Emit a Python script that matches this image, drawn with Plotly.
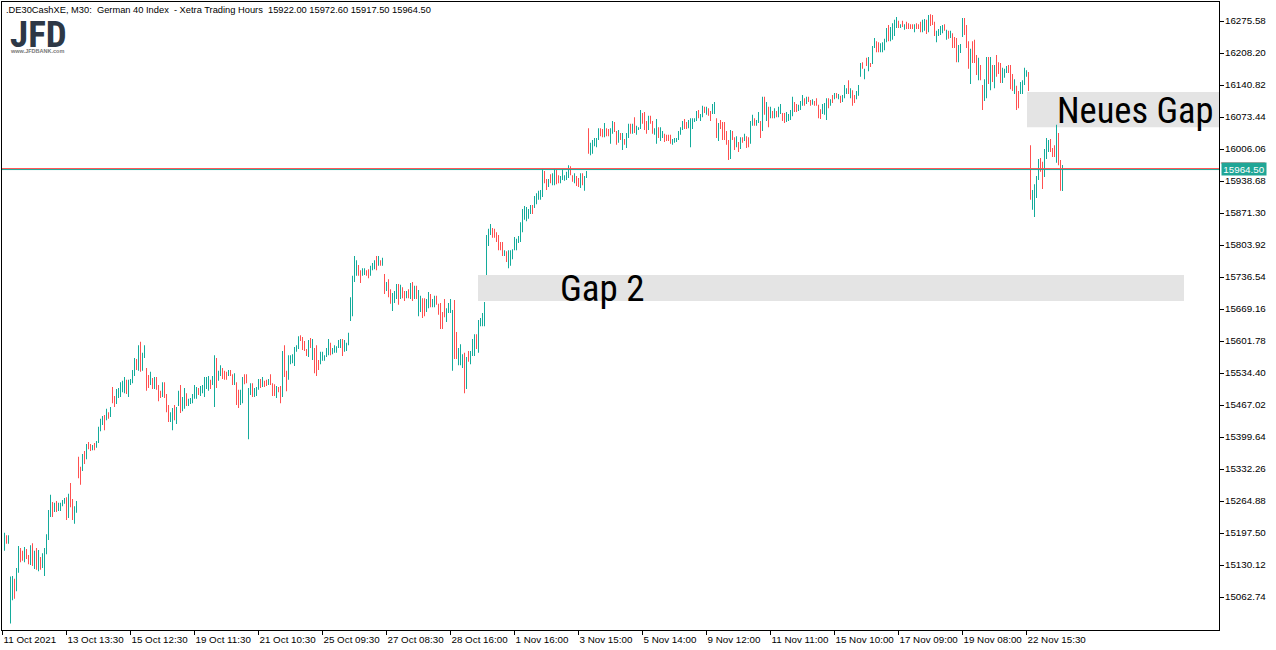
import plotly.graph_objects as go

# M30 bars, oldest first
highs = [
    15198,15193,15193,15106,15107,15101,15124,15170,15166,15160,
    15168,15164,15151,15172,15176,15160,15166,15162,15147,15155,
    15166,15195,15246,15278,15263,15261,15265,15261,15261,15267,
    15271,15273,15280,15303,15269,15254,15265,15358,15337,15364,
    15370,15385,15389,15385,15383,15387,15391,15421,15438,15444,
    15446,15459,15452,15463,15505,15486,15501,15503,15515,15518,
    15526,15520,15520,15522,15541,15566,15564,15593,15600,15577,
    15593,15545,15530,15537,15524,15526,15526,15509,15497,15515,
    15515,15490,15467,15452,15461,15467,15463,15497,15509,15484,
    15503,15492,15480,15482,15490,15509,15505,15503,15507,15509,
    15526,15526,15528,15520,15528,15572,15566,15539,15551,15545,
    15539,15537,15541,15541,15532,15534,15515,15499,15499,15526,
    15532,15532,15503,15513,15513,15503,15505,15522,15522,15526,
    15518,15520,15522,15532,15513,15511,15507,15505,15507,15581,
    15593,15539,15572,15572,15574,15589,15593,15612,15614,15610,
    15602,15585,15604,15608,15606,15587,15593,15562,15579,15579,
    15572,15587,15606,15598,15587,15593,15591,15604,15606,15606,
    15604,15598,15619,15694,15739,15781,15772,15762,15751,15755,
    15755,15751,15753,15760,15766,15772,15781,15781,15772,15777,
    15743,15726,15732,15711,15703,15707,15722,15722,15720,15715,
    15707,15707,15711,15724,15726,15718,15718,15709,15697,15692,
    15692,15690,15705,15701,15690,15697,15697,15680,15682,15663,
    15690,15671,15682,15690,15667,15688,15621,15587,15595,15574,
    15577,15568,15581,15581,15606,15616,15616,15646,15650,15661,
    15684,15825,15838,15848,15840,15838,15831,15825,15810,15810,
    15793,15791,15793,15793,15795,15821,15817,15823,15852,15880,
    15886,15884,15880,15888,15888,15907,15913,15918,15920,15964,
    15960,15943,15943,15953,15955,15964,15962,15951,15949,15964,
    15951,15958,15972,15970,15951,15955,15949,15945,15955,15955,
    15949,15960,16050,16019,16025,16029,16029,16050,16050,16048,
    16061,16050,16048,16050,16065,16063,16044,16046,16040,16040,
    16027,16040,16059,16059,16059,16073,16055,16052,16088,16082,
    16084,16065,16076,16076,16065,16050,16069,16052,16052,16044,
    16038,16036,16036,16036,16027,16029,16029,16044,16052,16065,
    16069,16063,16067,16071,16071,16071,16086,16088,16080,16097,
    16095,16095,16092,16086,16101,16105,16071,16061,16067,16063,
    16063,16044,16025,16046,16044,16031,16033,16021,16031,16031,
    16038,16033,16031,16065,16078,16071,16067,16084,16065,16116,
    16116,16105,16095,16095,16086,16092,16086,16095,16101,16082,
    16082,16084,16080,16088,16116,16105,16101,16099,16107,16120,
    16113,16116,16116,16109,16111,16107,16113,16099,16090,16101,
    16103,16113,16113,16111,16120,16124,16124,16122,16118,16120,
    16141,16134,16151,16134,16130,16120,16128,16141,16187,16189,
    16175,16198,16200,16187,16223,16240,16233,16231,16229,16231,
    16238,16261,16267,16263,16271,16278,16284,16276,16269,16276,
    16269,16274,16271,16269,16269,16269,16271,16269,16274,16278,
    16280,16278,16288,16290,16288,16274,16255,16259,16265,16267,
    16269,16257,16255,16255,16250,16242,16240,16225,16227,16282,
    16282,16267,16233,16217,16233,16236,16204,16198,16183,16141,
    16153,16200,16200,16200,16183,16183,16204,16189,16187,16177,
    16175,16181,16183,16183,16164,16153,16139,16128,16147,16151,
    16177,16172,16168,16014,15920,15932,15949,15985,15987,15979,
    16006,16029,16025,16027,16008,16014,16057,16040,15983,15972.6,
]
lows = [
    15160,15175,15175,15007,15056,15059,15075,15114,15136,15139,
    15136,15143,15132,15130,15128,15122,15120,15117,15120,15124,
    15107,15153,15183,15231,15231,15242,15242,15244,15244,15254,
    15259,15225,15229,15252,15225,15217,15240,15313,15299,15328,
    15343,15353,15374,15370,15372,15372,15377,15387,15412,15425,
    15414,15435,15438,15442,15471,15463,15469,15482,15484,15494,
    15492,15490,15484,15509,15513,15528,15541,15539,15537,15539,
    15566,15497,15503,15509,15501,15501,15499,15475,15482,15484,
    15482,15452,15431,15431,15414,15435,15427,15465,15450,15454,
    15459,15465,15465,15469,15471,15480,15480,15488,15486,15492,
    15484,15501,15497,15501,15509,15463,15503,15518,15528,15522,
    15520,15520,15528,15528,15509,15509,15467,15461,15467,15471,
    15511,15513,15395,15488,15484,15484,15486,15499,15503,15505,
    15505,15507,15509,15509,15486,15486,15482,15494,15471,15484,
    15526,15496,15520,15553,15555,15549,15579,15585,15602,15583,
    15581,15570,15568,15587,15562,15534,15528,15541,15553,15560,
    15560,15568,15572,15572,15574,15577,15577,15587,15587,15570,
    15579,15581,15593,15644,15654,15726,15739,15739,15724,15739,
    15741,15739,15734,15739,15751,15753,15751,15760,15760,15760,
    15701,15707,15694,15680,15665,15682,15690,15678,15690,15692,
    15686,15692,15692,15690,15686,15690,15690,15654,15663,15650,
    15654,15663,15671,15673,15673,15673,15678,15657,15627,15627,
    15652,15642,15661,15661,15539,15564,15564,15551,15551,15545,
    15492,15501,15558,15553,15570,15570,15585,15577,15633,15633,
    15633,15741,15802,15825,15819,15819,15810,15793,15793,15781,
    15781,15768,15755,15760,15774,15793,15793,15808,15810,15831,
    15857,15854,15859,15869,15869,15882,15890,15899,15899,15905,
    15934,15920,15926,15934,15930,15930,15932,15934,15934,15941,
    15939,15941,15945,15951,15937,15934,15928,15926,15924,15930,
    15918,15945,15996,15993,15996,16012,16010,16025,16033,16031,
    16031,16033,16033,16017,16038,16042,16015,16019,16025,16004,
    16015,16008,16029,16038,16038,16040,16036,16046,16048,16059,
    16046,16038,16046,16059,16038,16036,16017,16029,16023,16029,
    16021,16023,16023,16017,16015,16019,16021,16025,16036,16046,
    16048,16048,16050,16010,16048,16063,16065,16071,16065,16073,
    16082,16078,16076,16065,16080,16080,16029,16023,16048,16025,
    16025,16015,15983,15985,16025,16004,16010,16000,16006,16019,
    16023,16008,16010,16017,16055,16055,16055,16061,16029,16044,
    16078,16065,16052,16071,16071,16071,16073,16073,16080,16065,
    16061,16063,16065,16067,16075,16084,16084,16086,16088,16097,
    16097,16101,16105,16097,16099,16097,16097,16071,16069,16080,
    16078,16067,16092,16097,16103,16111,16113,16111,16103,16105,
    16113,16122,16122,16113,16097,16103,16111,16118,16158,16175,
    16153,16181,16170,16179,16185,16219,16210,16210,16210,16210,
    16214,16231,16233,16233,16236,16244,16261,16261,16261,16263,
    16257,16259,16259,16259,16259,16252,16259,16259,16252,16252,
    16255,16248,16252,16265,16267,16244,16231,16244,16246,16250,
    16255,16236,16238,16240,16219,16219,16189,16189,16208,16242,
    16246,16219,16175,16143,16187,16187,16162,16151,16151,16088,
    16107,16113,16143,16130,16147,16134,16158,16164,16145,16145,
    16156,16166,16166,16132,16128,16122,16088,16092,16122,16122,
    16141,16158,16128,15899,15878,15863,15903,15941,15958,15922,
    15947,15985,16000,16000,15989,15989,15977,15972,15918,15917.5,
]
# u = bull bar, d = bear bar
directions = (
    "uduuu" "duudd" "uddud" "ududu" "uuuud" "uduuu" "ududd" "uuddu" "duddu" "duuuu"
    "dudud" "duuuu" "uduuu" "ududu" "uddud" "udddu" "ddduu" "duudu" "uduuu" "uuduu"
    "uuudu" "uduud" "ddudd" "udduu" "dduud" "uuudu" "ddudd" "duddu" "dduuu" "uuudd"
    "ddudu" "ddduu" "uuudu" "uuuud" "uuuuu" "uuddu" "udduu" "ududu" "duddu" "uudud"
    "dudud" "uduud" "duudu" "udddd" "duuuu" "dduuu" "duduu" "uduuu" "uuuud" "ddddd"
    "uduuu" "uuuuu" "uuuud" "uuuuu" "ddudu" "udduu" "uuudd" "uddud" "uuduu" "uuudd"
    "udduu" "ddudu" "duudu" "duuud" "ddudd" "uuduu" "ddddu" "uuuuu" "dduuu" "uuduu"
    "duddu" "ududd" "dddud" "dudud" "udduu" "duudu" "dudud" "uduud" "duuuu" "dduuu"
    "duddu" "ddddu" "uudud" "ududu" "uudud" "duuud" "ududu" "udduu" "uuduu" "uudud"
    "udddd" "udddu" "ududd" "duuuu" "dudud" "dduuu" "dddud" "ddudd" "uudud" "udddu"
    "uuddd" "udduu" "uuddu" "uuudd" "uuudd" "duddu"
)

x_ticks = [-1 + 32 * k for k in range(17)]
x_labels = ["11 Oct 2021", "13 Oct 13:30", "15 Oct 12:30", "19 Oct 11:30", "21 Oct 10:30",
            "25 Oct 09:30", "27 Oct 08:30", "28 Oct 16:00", "1 Nov 16:00", "3 Nov 15:00",
            "5 Nov 14:00", "9 Nov 12:00", "11 Nov 11:00", "15 Nov 10:00", "17 Nov 09:00",
            "19 Nov 08:00", "22 Nov 15:30"]
y_ticks = [15062.74, 15130.12, 15197.50, 15264.88, 15332.26, 15399.64, 15467.02, 15534.40,
           15601.78, 15669.16, 15736.54, 15803.92, 15871.30, 15938.68, 16006.06, 16073.44,
           16140.82, 16208.20, 16275.58]

last_price = 15964.50
red_level = 15964.9
teal_level = 15962.8
tag_top = 15976.6
gap2 = (236.75, 589.75, 15686, 15741)
new_gap = (511.25, 607.25, 16052, 16126)

TEAL = "#14ab9b"
RED = "#ff5050"
FONT = "Liberation Sans"
NARROW = "Roboto Condensed, Liberation Sans Narrow, Liberation Sans"

x = list(range(len(highs)))
opens = [l if d == "u" else h for h, l, d in zip(highs, lows, directions)]
closes = [h if d == "u" else l for h, l, d in zip(highs, lows, directions)]

fig = go.Figure(go.Candlestick(
    x=x, open=opens, high=highs, low=lows, close=closes,
    increasing=dict(line=dict(color=TEAL, width=0), fillcolor=TEAL),
    decreasing=dict(line=dict(color=RED, width=0), fillcolor=RED),
    whiskerwidth=0,
    hoverinfo="skip",
))

for box in (gap2, new_gap):
    fig.add_shape(type="rect", x0=box[0], x1=box[1], y0=box[2], y1=box[3],
                  fillcolor="#e4e4e4", line_width=0, layer="below")

fig.add_shape(type="line", xref="paper", x0=0, x1=1, y0=teal_level, y1=teal_level, line=dict(color=TEAL, width=1))
fig.add_shape(type="line", xref="paper", x0=0, x1=1, y0=red_level, y1=red_level, line=dict(color=RED, width=1))

fig.add_annotation(text="Gap 2", x=276.5, y=15713, xanchor="left", yanchor="middle", showarrow=False,
                   font=dict(family=NARROW, size=37, color="black"))
fig.add_annotation(text="Neues Gap", x=525.4, y=16088, xanchor="left", yanchor="middle", showarrow=False,
                   font=dict(family=NARROW, size=36.5, color="black"))

# current price tag on the scale
fig.add_annotation(text="15964.50", xref="paper", x=1.0015, y=last_price, xanchor="left", yanchor="middle",
                   showarrow=False, bgcolor="#20a696", font=dict(family=FONT, size=9.8, color="white"),
                   borderpad=0, width=44, height=12)
fig.add_shape(type="line", xref="paper", x0=1.0015, x1=1.0377, y0=tag_top, y1=tag_top, line=dict(color=RED, width=1))

fig.add_annotation(text=".DE30CashXE, M30:  German 40 Index  - Xetra Trading Hours  15922.00 15972.60 15917.50 15964.50",
                   xref="paper", yref="paper", x=0.0015, y=0.998, xanchor="left", yanchor="top",
                   showarrow=False, font=dict(family=FONT, size=9.3, color="black"))

# logo
fig.add_annotation(text="<b>JFD</b>", xref="paper", yref="paper", x=0.005, y=0.9753, xanchor="left", yanchor="top",
                   showarrow=False, font=dict(family=NARROW, size=37, color="#2d3846"), height=28)
fig.add_annotation(text="<b>www.JFDBANK.com</b>", xref="paper", yref="paper", x=0.005, y=0.93, xanchor="left",
                   yanchor="top", showarrow=False, font=dict(family=FONT, size=5.5, color="#777777"))

fig.update_layout(
    width=1276, height=650,
    margin=dict(l=2, r=57, t=2, b=20),
    paper_bgcolor="white", plot_bgcolor="white",
    showlegend=False,
    boxgap=0.5, boxgroupgap=0,
    font=dict(family=FONT, size=10, color="black"),
)
fig.update_xaxes(
    range=[-1.25, 607.25], rangeslider_visible=False, showgrid=False, zeroline=False,
    tickmode="array", tickvals=x_ticks, ticktext=x_labels, ticks="outside", ticklen=4, tickangle=0,
    tickcolor="black", ticklabelposition="outside right", tickfont=dict(family=FONT, size=9.8),
    showline=True, linecolor="black", linewidth=1, mirror=True,
)
fig.update_yaxes(
    range=[14993.3, 16315.6], side="right", showgrid=False, zeroline=False,
    tickmode="array", tickvals=y_ticks, tickformat=".2f", ticks="outside", ticklen=4,
    tickcolor="black", tickfont=dict(family=FONT, size=9.8), ticklabelstandoff=-1,
    showline=True, linecolor="black", linewidth=1, mirror=True,
)

fig.write_html("out.html", config={"displayModeBar": False}, post_script="document.body.style.margin='0';")
